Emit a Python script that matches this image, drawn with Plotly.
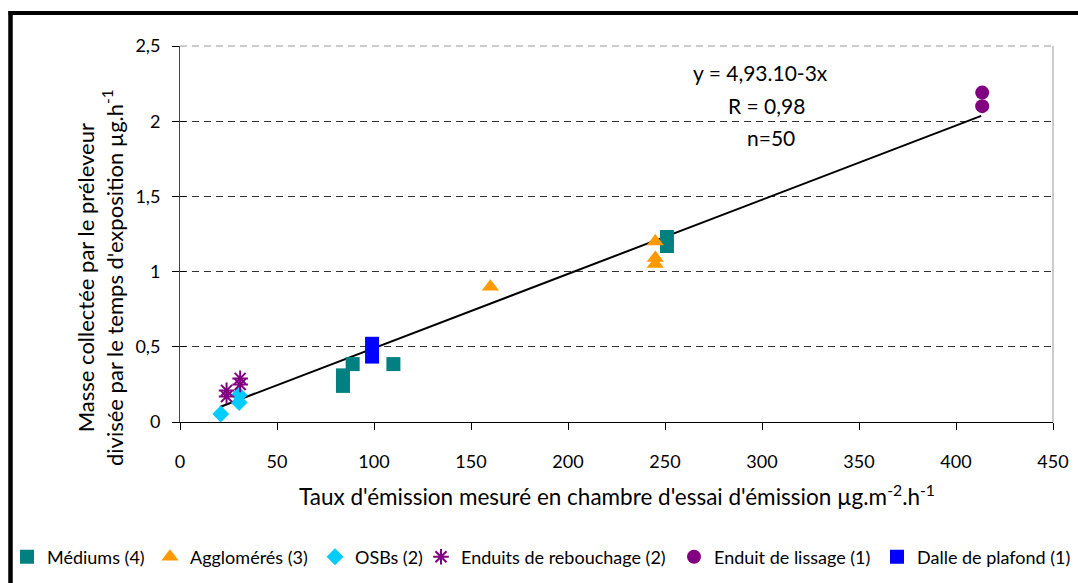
import plotly.graph_objects as go

# Data
med_x = [84, 84, 89, 110, 251, 251]
med_y = [0.24, 0.31, 0.385, 0.385, 1.17, 1.23]
agg_x = [160, 245, 245, 245]
agg_y = [0.90, 1.20, 1.09, 1.05]
osb_x = [21, 30.5, 30.5]
osb_y = [0.053, 0.13, 0.18]
reb_x = [24, 24, 31, 31]
reb_y = [0.17, 0.21, 0.25, 0.29]
lis_x = [413.5, 413.5]
lis_y = [2.10, 2.19]
dal_x = [99, 99]
dal_y = [0.435, 0.52]
trend_x = [20.6, 413]
trend_y = [0.10, 2.035]

x_ticks = [0, 50, 100, 150, 200, 250, 300, 350, 400, 450]
y_ticks = [0, 0.5, 1, 1.5, 2, 2.5]
y_tick_labels = ["0", "0,5", "1", "1,5", "2", "2,5"]
eq_lines = ["y = 4,93.10-3x", "R = 0,98", "n=50"]

FONT = "Lato"
L, R, T, B = 180, 25, 46, 161
W, H = 1078, 583
PW, PH = W - L - R, H - T - B


def px_x(p):
    return (p - L) / PW


def px_y(p):
    return (H - B - p) / PH


fig = go.Figure()
fig.add_trace(go.Scatter(x=trend_x, y=trend_y, mode="lines",
                         line=dict(color="black", width=2), showlegend=False, hoverinfo="skip"))
series = [
    ("Médiums (4)", med_x, med_y, dict(symbol="square", size=14, color="#008080")),
    ("Agglomérés (3)", agg_x, agg_y, dict(symbol="triangle-up", size=15, color="#FF9900")),
    ("OSBs (2)", osb_x, osb_y, dict(symbol="diamond", size=13, color="#00CCFF")),
    ("Enduits de rebouchage (2)", reb_x, reb_y,
     dict(symbol="asterisk-open", size=13, color="#800080", line=dict(color="#800080", width=2))),
    ("Enduit de lissage (1)", lis_x, lis_y, dict(symbol="circle", size=14, color="#800080")),
    ("Dalle de plafond (1)", dal_x, dal_y, dict(symbol="square", size=14, color="#0000FF")),
]
legend_text_start = [48, 191, 356, 462, 715, 918]
legend_layout = {}
for i, (name, xs, ys, mk) in enumerate(series):
    key = "legend" if i == 0 else f"legend{i + 1}"
    fig.add_trace(go.Scatter(x=xs, y=ys, mode="markers", name=name, marker=mk, legend=key))
    legend_layout[key] = dict(orientation="h", x=px_x(legend_text_start[i] - 41), y=px_y(557),
                              xanchor="left", yanchor="middle", bgcolor="rgba(0,0,0,0)",
                              font=dict(family=FONT, size=18, color="#000"), itemwidth=30)

# invisible overlay axis giving the inner half of the crossing y ticks
fig.add_trace(go.Scatter(x=[None], y=[None], yaxis="y2", showlegend=False, hoverinfo="skip"))

fig.update_xaxes(range=[0, 450], tickvals=x_ticks, ticks="outside", ticklen=7,
                 tickcolor="#000", showline=True, linecolor="#000", linewidth=1,
                 showgrid=False, zeroline=False, ticklabelstandoff=16,
                 tickfont=dict(family=FONT, size=18, color="#000"))
fig.update_layout(yaxis=dict(range=[0, 2.5], tickvals=y_ticks, ticktext=y_tick_labels, ticks="outside",
                             ticklen=7, tickcolor="#000", showline=True, linecolor="#444", linewidth=1,
                             showgrid=True, gridcolor="#333", griddash="7px,5px", gridwidth=1,
                             zeroline=False, ticklabelstandoff=8,
                             tickfont=dict(family=FONT, size=18, color="#000")),
                  yaxis2=dict(range=[0, 2.5], tickvals=y_ticks, overlaying="y", side="left",
                              ticks="inside", ticklen=6, tickcolor="#000", showticklabels=False,
                              showgrid=False, zeroline=False, showline=False))

shapes = [
    dict(type="line", xref="paper", yref="paper", x0=1, x1=1, y0=0, y1=1,
         line=dict(color="#999", width=1)),
    dict(type="line", xref="paper", yref="paper", x0=0, x1=1, y0=1, y1=1,
         line=dict(color="#999", width=1, dash="7px,5px")),
    dict(type="line", xref="paper", yref="paper", x0=px_x(10.5), x1=px_x(10.5),
         y0=px_y(11), y1=px_y(600), line=dict(color="black", width=4.5)),
    dict(type="line", xref="paper", yref="paper", x0=px_x(8.5), x1=px_x(1090),
         y0=px_y(13), y1=px_y(13), line=dict(color="black", width=4)),
]

annotations = []
for txt, cx, cy in zip(eq_lines, [760, 766, 771], [72, 105, 137]):
    annotations.append(dict(text=txt, x=px_x(cx), y=px_y(cy), xref="paper", yref="paper",
                            showarrow=False, font=dict(family=FONT, size=21, color="#000"),
                            xanchor="center", yanchor="middle"))
annotations.append(dict(
    text="Taux d'émission mesuré en chambre d'essai d'émission µg.m<sup>-2</sup>.h<sup>-1</sup>",
    x=px_x(617), y=px_y(495), xref="paper", yref="paper", showarrow=False,
    font=dict(family=FONT, size=22.5, color="#000"), xanchor="center", yanchor="middle"))
annotations.append(dict(
    text="Masse collectée par le préleveur<br>divisée par le temps d'exposition µg.h<sup>-1</sup>",
    x=px_x(100), y=px_y(278), xref="paper", yref="paper", showarrow=False, textangle=-90,
    font=dict(family=FONT, size=22, color="#000"), xanchor="center", yanchor="middle"))

fig.update_layout(
    width=W, height=H,
    margin=dict(l=L, r=R, t=T, b=B, autoexpand=False),
    plot_bgcolor="white", paper_bgcolor="white",
    shapes=shapes, annotations=annotations,
    **legend_layout,
)

fig.write_html("out.html", config={"displayModeBar": False},
               post_script="document.body.style.margin='0';")
